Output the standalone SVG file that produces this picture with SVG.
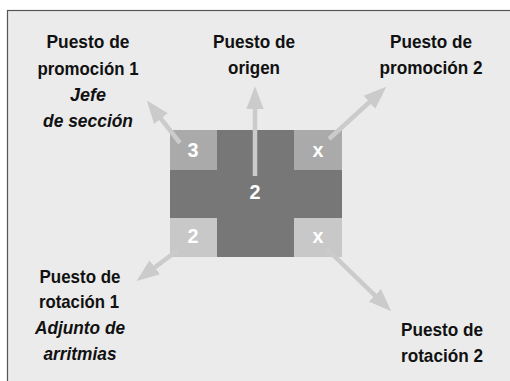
<svg xmlns="http://www.w3.org/2000/svg" width="510" height="381" viewBox="0 0 510 381">
<defs>
<style>
.lbl{font-family:"Liberation Sans",Arial,sans-serif;font-size:19px;font-weight:bold;fill:#111;text-anchor:middle}
.it{font-style:italic}
.num{font-family:"Liberation Sans",Arial,sans-serif;font-size:20px;font-weight:bold;fill:#fff;text-anchor:middle}
.con{stroke:#cbcbcb;stroke-width:4.5;fill:none;marker-end:url(#ah)}
</style>
<marker id="ah" markerUnits="userSpaceOnUse" markerWidth="24" markerHeight="20" viewBox="0 -9 22 18" refX="1" refY="0" orient="auto">
<path d="M0,-8 L21,0 L0,8 z" fill="#cbcbcb"/>
</marker>
</defs>
<rect x="0" y="0" width="510" height="381" fill="#fff"/>
<rect x="7.5" y="10.5" width="510" height="380" fill="#ebebeb" stroke="#555" stroke-width="1.2"/>
<g id="centro">
<rect x="170" y="130" width="172" height="127" fill="#777"/>
<text class="num" x="255" y="199" textLength="11" lengthAdjust="spacingAndGlyphs">2</text>
</g>
<g id="c-tl"><rect x="170" y="130" width="47" height="40" fill="#aaa"/><text class="num" x="193" y="157" textLength="11" lengthAdjust="spacingAndGlyphs">3</text></g>
<g id="c-tr"><rect x="294" y="130" width="48" height="40" fill="#aaa"/><text class="num" x="318" y="157" textLength="11" lengthAdjust="spacingAndGlyphs">x</text></g>
<g id="c-bl"><rect x="170" y="218" width="47" height="39" fill="#c8c8c8"/><text class="num" x="193" y="243" textLength="11" lengthAdjust="spacingAndGlyphs">2</text></g>
<g id="c-br"><rect x="294" y="218" width="48" height="39" fill="#c8c8c8"/><text class="num" x="318" y="243" textLength="11" lengthAdjust="spacingAndGlyphs">x</text></g>
<g id="connectors">
<line class="con" x1="255" y1="176" x2="255" y2="108"/>
<line class="con" x1="180" y1="143" x2="160.3" y2="117.8"/>
<line class="con" x1="329" y1="139" x2="370.2" y2="101.5"/>
<line class="con" x1="178" y1="250" x2="154" y2="268"/>
<line class="con" x1="327" y1="249" x2="375.6" y2="296.1"/>
</g>
<g id="promo1">
<text class="lbl" x="88" y="48" textLength="83" lengthAdjust="spacingAndGlyphs">Puesto de</text>
<text class="lbl" x="88" y="75" textLength="101" lengthAdjust="spacingAndGlyphs">promoción 1</text>
<text class="lbl it" x="88" y="101" textLength="36" lengthAdjust="spacingAndGlyphs">Jefe</text>
<text class="lbl it" x="88" y="127" textLength="90" lengthAdjust="spacingAndGlyphs">de sección</text>
</g>
<g id="origen">
<text class="lbl" x="254" y="48" textLength="82" lengthAdjust="spacingAndGlyphs">Puesto de</text>
<text class="lbl" x="254" y="74" textLength="52" lengthAdjust="spacingAndGlyphs">origen</text>
</g>
<g id="promo2">
<text class="lbl" x="431" y="48" textLength="82" lengthAdjust="spacingAndGlyphs">Puesto de</text>
<text class="lbl" x="431" y="74" textLength="103" lengthAdjust="spacingAndGlyphs">promoción 2</text>
</g>
<g id="rot1">
<text class="lbl" x="80" y="283" textLength="81" lengthAdjust="spacingAndGlyphs">Puesto de</text>
<text class="lbl" x="79" y="308" textLength="80" lengthAdjust="spacingAndGlyphs">rotación 1</text>
<text class="lbl it" x="80" y="334" textLength="90" lengthAdjust="spacingAndGlyphs">Adjunto de</text>
<text class="lbl it" x="80" y="360" textLength="73" lengthAdjust="spacingAndGlyphs">arritmias</text>
</g>
<g id="rot2">
<text class="lbl" x="442" y="336" textLength="82" lengthAdjust="spacingAndGlyphs">Puesto de</text>
<text class="lbl" x="442" y="362" textLength="82" lengthAdjust="spacingAndGlyphs">rotación 2</text>
</g>
</svg>
